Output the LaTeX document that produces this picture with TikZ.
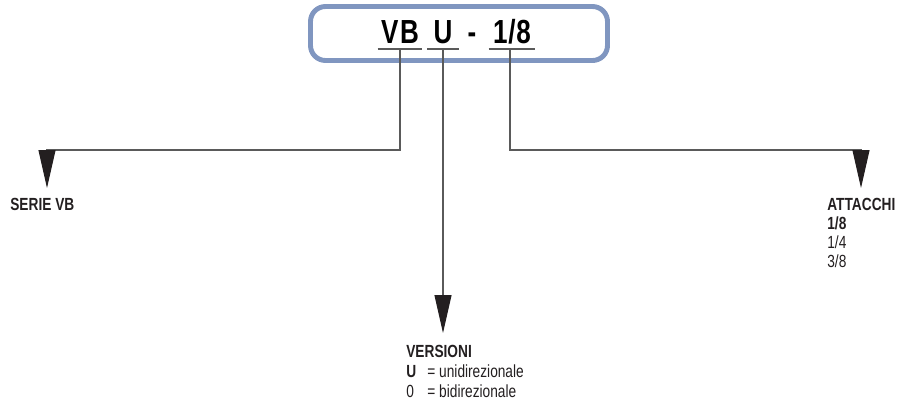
\documentclass[tikz,border=0pt]{standalone}
\usepackage{fontspec}
\setmainfont{Liberation Sans}[FakeStretch=0.78]
\usetikzlibrary{arrows.meta}
\definecolor{frameblue}{RGB}{128,150,192}
\definecolor{leadgray}{RGB}{90,90,90}
\definecolor{tipblack}{RGB}{35,31,32}

\begin{document}
\begin{tikzpicture}[x=0.02cm,y=-0.02cm]
	\useasboundingbox (0,0) rectangle (900,403);
	\tikzset{
		code/.style={inner sep=0pt, anchor=base, font=\fontsize{19}{20}\selectfont\bfseries},
		lead/.style={draw=leadgray, line width=0.6pt, -{Triangle[length=0.76cm, width=0.34cm, fill=tipblack, color=tipblack]}},
		uline/.style={draw=leadgray, line width=0.6pt},
		label/.style={inner sep=0pt, anchor=north west, align=left, text=tipblack}
	}

	\draw[frameblue, line width=2.8pt, rounded corners=0.3cm] (310.5,6.5) rectangle (607.5,60.5);

	\node[code, minimum width=0.88cm] (vb)  at (400, 43) {V\kern1ptB};
	\node[code, minimum width=0.62cm] (ver) at (443, 43) {U};
	\node[code]                       (dash) at (472, 43) {-};
	\node[code, minimum width=0.92cm] (att) at (512, 43) {1\kern0.5pt/\kern0.5pt8};
	\coordinate (ul) at (0, 49);

	\draw[uline] (vb.west |- ul) -- (vb.east |- ul);
	\draw[uline] (ver.west |- ul) -- (ver.east |- ul);
	\draw[uline] (att.west |- ul) -- (att.east |- ul);

	\node[label, font=\fontsize{10}{10.8}\selectfont\bfseries] (serie) at (10, 198) {SERIE VB};
	\node[label, font=\fontsize{10}{11.3}\selectfont] (versioni) at (406, 345)
		{\textbf{VERSIONI}\\ \makebox[12pt][l]{\textbf{U}}= unidirezionale\\ \makebox[12pt][l]{0}= bidirezionale};
	\node[label, font=\fontsize{10}{10.8}\selectfont] (attacchi) at (827, 198)
		{\textbf{ATTACCHI}\\ \textbf{1/8}\\ 1/4\\ 3/8};

	\coordinate (cornL) at (47, 150);
	\coordinate (tipL) at (47, 188);
	\coordinate (tipD) at (443, 333);
	\coordinate (cornR) at (861, 150);
	\coordinate (tipR) at (861, 188);

	\path[lead] (vb.center |- ul) |- (cornL) -- (tipL);
	\path[lead] (ver.center |- ul) -- (tipD);
	\path[lead] ([xshift=-0.04cm]att.center |- ul) |- (cornR) -- (tipR);
\end{tikzpicture}
\end{document}
